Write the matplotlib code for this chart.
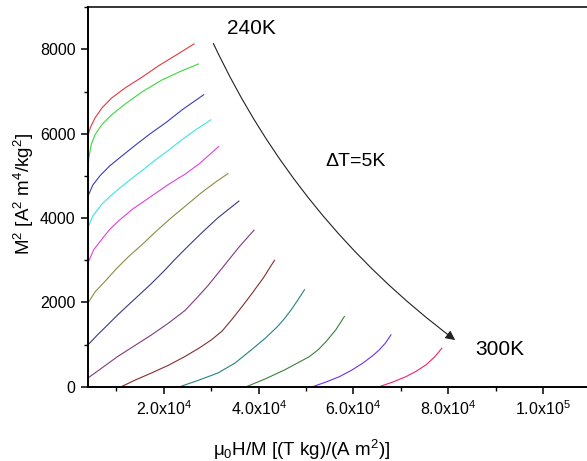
import matplotlib
matplotlib.use("Agg")
import matplotlib.pyplot as plt
from matplotlib.ticker import MultipleLocator, FuncFormatter
from matplotlib.patches import FancyArrowPatch

plt.rcParams['font.family'] = ['Liberation Sans', 'DejaVu Sans']
plt.rcParams['mathtext.fontset'] = 'custom'
plt.rcParams['mathtext.rm'] = 'Liberation Sans'
plt.rcParams['mathtext.it'] = 'Liberation Sans:italic'
plt.rcParams['mathtext.bf'] = 'Liberation Sans:bold'

# Arrott plot data: x = mu0 H / M, y = M^2, one isotherm per temperature
temps = [240, 245, 250, 255, 260, 265, 270, 275, 280, 285, 290, 295, 300]

x240 = [3800, 4000, 4500, 5500, 7000, 9000, 12000, 15500, 19000, 22500, 26380]
y240 = [5750, 5950, 6150, 6380, 6620, 6850, 7100, 7350, 7620, 7860, 8132]
x245 = [3900, 4000, 4200, 4700, 5500, 7000, 9000, 12000, 15500, 19500, 23500, 27310]
y245 = [5100, 5200, 5450, 5750, 5980, 6230, 6450, 6720, 7000, 7270, 7480, 7656]
x250 = [4000, 5000, 6500, 8500, 11000, 14000, 17000, 20500, 24000, 28420]
y250 = [4522, 4780, 5000, 5230, 5460, 5730, 5990, 6270, 6580, 6926]
x255 = [4000, 5000, 6880, 8500, 10380, 13000, 15300, 18000, 20900, 23720, 26800, 29890]
y255 = [3770, 4050, 4325, 4500, 4682, 4920, 5117, 5360, 5600, 5850, 6100, 6330]
x260 = [4000, 5200, 6880, 8500, 10380, 13500, 17410, 21000, 24420, 27500, 31580]
y260 = [2937, 3250, 3491, 3720, 3927, 4220, 4522, 4800, 5038, 5290, 5698]
x265 = [4000, 5500, 7920, 10000, 12500, 15500, 18500, 21500, 24500, 27930, 31000, 33530]
y265 = [1985, 2250, 2540, 2800, 3080, 3380, 3700, 4000, 4280, 4602, 4860, 5055]
x270 = [4000, 6000, 8000, 10230, 13000, 15500, 17410, 20000, 22310, 25000, 28000, 31430, 33800, 35850]
y270 = [992, 1230, 1450, 1700, 1990, 2250, 2450, 2740, 3016, 3320, 3650, 4008, 4220, 4403]
x275 = [4000, 7000, 10230, 13800, 17410, 21000, 24480, 27000, 29330, 32920, 36000, 39040]
y275 = [207, 450, 714, 970, 1230, 1510, 1810, 2110, 2400, 2900, 3330, 3715]
x280 = [11030, 14000, 17410, 21000, 24420, 27500, 30040, 32300, 34250, 36500, 38460, 41000, 43360]
y280 = [0, 160, 326, 510, 714, 920, 1111, 1320, 1580, 1900, 2190, 2580, 3000]
x285 = [23370, 27500, 31430, 35000, 38460, 41500, 44000, 45500, 46880, 48300, 49680]
y285 = [0, 160, 326, 560, 873, 1160, 1428, 1620, 1825, 2060, 2300]
x290 = [37410, 41500, 45470, 48000, 50730, 52600, 54250, 56300, 58100]
y290 = [0, 190, 397, 550, 714, 880, 1071, 1350, 1666]
x295 = [51400, 54200, 57050, 59600, 61950, 63900, 65460, 66800, 67930]
y295 = [0, 110, 238, 390, 556, 720, 873, 1040, 1230]
x300 = [65460, 68300, 71090, 73300, 75300, 77100, 78670]
y300 = [0, 110, 238, 370, 516, 700, 913]

xs = [x240, x245, x250, x255, x260, x265, x270, x275, x280, x285, x290, x295, x300]
ys = [y240, y245, y250, y255, y260, y265, y270, y275, y280, y285, y290, y295, y300]

colors = ['#e03a40', '#3cd83c', '#3a3ac0', '#3ce4e4', '#e040e0', '#8c8c40',
          '#3a3a80', '#803a80', '#803030', '#2a8080', '#3a803a', '#7030f0', '#f02070']

fig = plt.figure(figsize=(5.87, 4.61), dpi=100)
ax = fig.add_axes([88/587, 74.3/461, 1 - 88/587, (386.7 - 7.3)/461])

for x, y, c in zip(xs, ys, colors):
    ax.plot(x, y, color=c, lw=0.8, solid_joinstyle='round')

ax.set_xlim(4000, 109300)
ax.set_ylim(0, 9000)

ax.xaxis.set_major_locator(MultipleLocator(20000))
ax.xaxis.set_minor_locator(MultipleLocator(10000))
ax.yaxis.set_major_locator(MultipleLocator(2000))
ax.yaxis.set_minor_locator(MultipleLocator(1000))

def xfmt(v, pos):
    if v <= 0:
        return ''
    exp = 0
    m = v
    while m >= 10:
        m /= 10.0
        exp += 1
    return r'%.1fx10$^{%d}$' % (m, exp)

ax.xaxis.set_major_formatter(FuncFormatter(xfmt))

ax.tick_params(which='major', direction='out', length=5, width=1.1, labelsize=11.5, pad=4)
ax.tick_params(which='minor', direction='out', length=3, width=1.0)

ax.spines['right'].set_visible(False)
ax.spines['left'].set_linewidth(1.4)
ax.spines['bottom'].set_linewidth(1.4)
ax.spines['top'].set_linewidth(1.1)

# annotations
ax.text(33280, 8506, '240K', fontsize=15, ha='left', va='center')
ax.text(54030, 5336, 'ΔT=5K', fontsize=14, ha='left', va='center')
ax.text(85700, 882, '300K', fontsize=15, ha='left', va='center')

arrow = FancyArrowPatch((30450, 8143), (81470, 1107),
                        connectionstyle='arc3,rad=0.125',
                        arrowstyle='-|>', mutation_scale=14,
                        lw=0.8, color='#222222', shrinkA=0, shrinkB=0)
ax.add_patch(arrow)

fig.text(302/587, (461 - 456)/461, r'μ$_0$H/M [(T kg)/(A m$^2$)]', fontsize=13.5,
         ha='center', va='baseline')
fig.text(30/587, 1 - 194/461, r'M$^2$ [A$^2$ m$^4$/kg$^2$]', fontsize=13.5,
         ha='center', va='baseline', rotation=90, rotation_mode='anchor')

fig.savefig('out.png', dpi=100)
